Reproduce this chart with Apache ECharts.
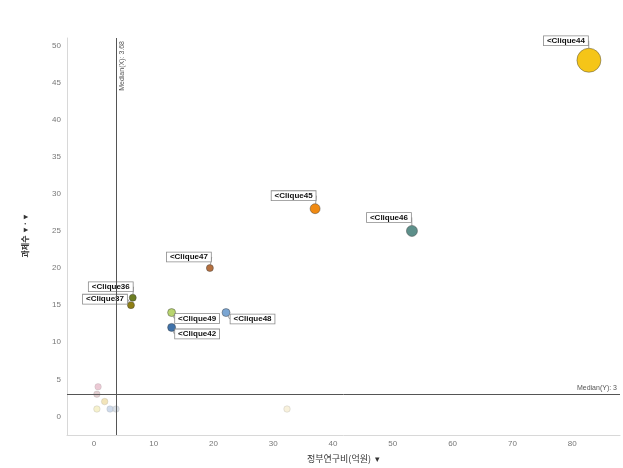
<!DOCTYPE html>
<html><head><meta charset="utf-8">
<script src="https://cdn.jsdelivr.net/npm/echarts@6/dist/echarts.min.js"></script>
<style>html,body{margin:0;padding:0;background:#fff}#c{width:623px;height:468px}</style>
</head><body><div id="c"></div>
<script>
// Data
const names = ['Clique44','Clique45','Clique46','Clique47','Clique36','Clique37','Clique49','Clique42','Clique48','p1','p2','p3','p4','p5','p6','p7'];
const funding = [82.8, 37.0, 53.2, 19.4, 6.5, 6.2, 13.0, 13.0, 22.1, 0.7, 0.5, 1.8, 0.5, 2.7, 3.7, 32.3];
const projects = [48, 28, 25, 20, 16, 15, 14, 12, 14, 4, 3, 2, 1, 1, 1, 1];
const weight = [24, 10, 11, 7, 7, 7, 8, 8, 8, 6.5, 6.5, 6.5, 6.5, 6.5, 6.5, 6.5];
const labeled = [true, true, true, true, true, true, true, true, true, false, false, false, false, false, false, false];
const xTicks = [0, 10, 20, 30, 40, 50, 60, 70, 80];
const yTicks = [0, 5, 10, 15, 20, 25, 30, 35, 40, 45, 50];
const medianX = 3.68;
const medianY = 3;

// Styles
const colors = ['#f5c518','#f08a12','#5d8f8a','#b5703f','#6b7d22','#8f7f14','#b8d46f','#3f72aa','#7ba6d3','#e8bfcc','#dcc5c8','#f0dfae','#f4efc4','#c5d3e8','#d3dae3','#f7eed6'];
const faded = [false,false,false,false,false,false,false,false,false,true,true,true,true,true,true,true];
const labelOffsets = {
  Clique44: [-23, -19.5], Clique45: [-21.5, -13], Clique46: [-23, -13.5], Clique47: [-21, -11],
  Clique36: [-22, -11], Clique37: [-26, -6], Clique49: [25.5, 6], Clique42: [25.5, 6.5], Clique48: [26.5, 6.5]
};

const data = names.map((n, i) => ({
  name: n,
  value: [funding[i], projects[i], weight[i]],
  itemStyle: { color: colors[i], borderColor: faded[i] ? 'rgba(150,150,150,0.35)' : 'rgba(60,60,60,0.55)', borderWidth: 0.8, opacity: faded[i] ? 0.85 : 1 },
  label: { show: labeled[i] },
  labelLine: { show: labeled[i] }
}));

const chart = echarts.init(document.getElementById('c'), null, { renderer: 'canvas' });
const fontFam = '"Liberation Sans", Arial, sans-serif';
chart.setOption({
  animation: false,
  grid: { left: 67, right: 3, top: 38, bottom: 32 },
  xAxis: {
    type: 'value', min: -4.5, max: 88,
    name: '정부연구비(억원)  ▾', nameLocation: 'middle', nameGap: 19,
    nameTextStyle: { fontSize: 9, color: '#333', fontFamily: '"Noto Sans CJK KR", sans-serif' },
    axisLine: { show: true, onZero: false, lineStyle: { color: '#d8d8d8' } },
    axisTick: { show: false },
    splitLine: { show: false },
    axisLabel: { customValues: xTicks, fontSize: 8, color: '#777', margin: 5, fontFamily: fontFam }
  },
  yAxis: {
    type: 'value', min: -2.5, max: 51,
    name: '과제수  ▾ · ▾', nameLocation: 'middle', nameGap: 38, nameRotate: 90,
    nameTextStyle: { fontSize: 8, color: '#333', fontWeight: 'bold', fontFamily: '"Noto Sans CJK KR", sans-serif' },
    axisLine: { show: true, onZero: false, lineStyle: { color: '#d8d8d8' } },
    axisTick: { show: false },
    splitLine: { show: false },
    axisLabel: { customValues: yTicks, fontSize: 8, color: '#777', margin: 6, fontFamily: fontFam }
  },
  series: [{
    type: 'scatter',
    data: data,
    symbolSize: v => v[2],
    z: 3,
    label: {
      show: true, position: 'inside',
      formatter: p => '<' + p.name,
      fontSize: 8, fontWeight: 'bold', color: '#111', fontFamily: fontFam,
      backgroundColor: '#fff', borderColor: '#8a8a8a', borderWidth: 0.8, padding: [1, 3, 0, 3]
    },
    labelLine: { show: true, lineStyle: { color: '#888', width: 0.8 } },
    labelLayout: p => {
      const o = labelOffsets[names[p.dataIndex]];
      return o ? { dx: o[0], dy: o[1] } : {};
    },
    markLine: {
      silent: true, symbol: 'none', animation: false,
      lineStyle: { color: '#555', width: 1, type: 'solid' },
      data: [
        { xAxis: medianX, label: { show: true, position: 'insideEndBottom', formatter: 'Median(X): ' + medianX, fontSize: 7, color: '#555', distance: 3, fontFamily: fontFam } },
        { yAxis: medianY, label: { show: true, position: 'insideEndTop', formatter: 'Median(Y): ' + medianY, fontSize: 7, color: '#555', distance: 3, fontFamily: fontFam } }
      ]
    }
  }]
});
</script></body></html>
